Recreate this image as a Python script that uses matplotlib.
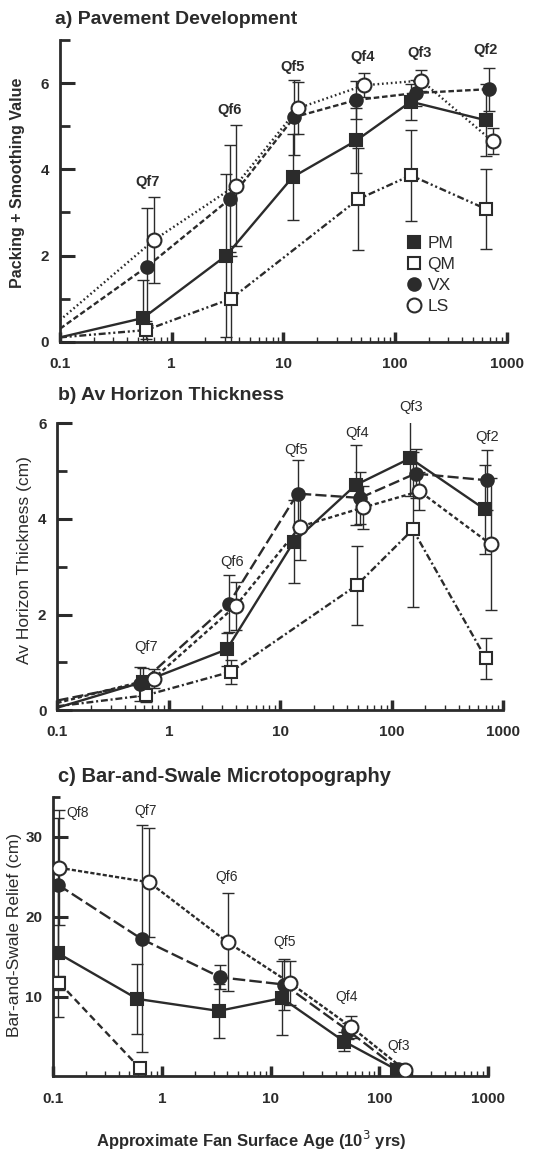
import numpy as np
import matplotlib
matplotlib.use("Agg")
from matplotlib import pyplot as plt
from matplotlib.lines import Line2D

plt.rcParams['font.family'] = ['Liberation Sans', 'DejaVu Sans']
plt.rcParams['lines.scale_dashes'] = False

nan = np.nan
INK = '#2b2b2b'

# ---- a) pavement development (first point of each line is the 0.1 start, no marker)
a_pm_x = [0.1, 0.555, 3.08, 12.1, 45, 138, 646]
a_pm_y = [0.1, 0.55, 2.0, 3.82, 4.67, 5.57, 5.14]
a_pm_e = [nan, 0.88, 1.9, 1.0, 0.76, 0.42, 0.84]
a_qm_x = [0.1, 0.59, 3.41, 47, 138, 650]
a_qm_y = [0.1, 0.27, 1.0, 3.31, 3.86, 3.08]
a_qm_e = [nan, 0.2, 1.0, 1.18, 1.06, 0.92]
a_vx_x = [0.1, 0.6, 3.35, 12.5, 45, 153, 690]
a_vx_y = [0.3, 1.74, 3.32, 5.21, 5.61, 5.77, 5.86]
a_vx_e = [nan, 1.36, 1.25, 0.87, 0.44, 0.3, 0.5]
a_ls_x = [0.1, 0.695, 3.73, 13.6, 52.7, 172, 745]
a_ls_y = [0.5, 2.36, 3.62, 5.42, 5.95, 6.06, 4.65]
a_ls_e = [nan, 1.0, 1.4, 0.6, 0.28, 0.25, 0.3]
a_lab = ['Qf7', 'Qf6', 'Qf5', 'Qf4', 'Qf3', 'Qf2']
a_lab_x = [0.61, 3.3, 12.0, 50.7, 166, 648]
a_lab_y = [3.71, 5.38, 6.38, 6.6, 6.7, 6.78]

# ---- b) Av horizon thickness
b_pm_x = [0.1, 0.59, 3.31, 13.2, 47.5, 147, 689]
b_pm_y = [0.05, 0.59, 1.27, 3.52, 4.71, 5.27, 4.2]
b_pm_e = [nan, 0.3, 0.35, 0.87, 0.83, 0.8, 0.93]
b_qm_x = [0.1, 0.625, 3.59, 48.5, 155, 702]
b_qm_y = [0.08, 0.31, 0.8, 2.61, 3.78, 1.08]
b_qm_e = [nan, 0.15, 0.25, 0.83, 1.62, 0.42]
b_vx_x = [0.1, 0.55, 3.46, 14.3, 52, 164, 716]
b_vx_y = [0.2, 0.55, 2.23, 4.53, 4.44, 4.95, 4.81]
b_vx_e = [nan, 0.35, 0.6, 0.7, 0.55, 0.52, 0.63]
b_ls_x = [0.1, 0.73, 3.98, 15.1, 55.7, 178, 776]
b_ls_y = [0.15, 0.66, 2.18, 3.84, 4.24, 4.58, 3.47]
b_ls_e = [nan, 0.2, 0.5, 0.69, 0.44, 0.4, 1.38]
b_lab = ['Qf7', 'Qf6', 'Qf5', 'Qf4', 'Qf3', 'Qf2']
b_lab_x = [0.625, 3.7, 13.8, 48.5, 151, 726]
b_lab_y = [1.32, 3.1, 5.44, 5.79, 6.35, 5.72]

# ---- c) bar-and-swale relief
c_pm_x = [0.111, 0.594, 3.32, 12.7, 47.8, 146]
c_pm_y = [15.4, 9.7, 8.2, 9.8, 4.35, 0.8]
c_pm_e = [7.9, 4.4, 3.4, 4.6, 1.2, 0.3]
c_qm_x = [0.114, 0.63]
c_qm_y = [11.7, 1.0]
c_qm_e = [0.9, 0.3]
c_vx_x = [0.11, 0.65, 3.45, 13.3, 52, 150]
c_vx_y = [24.0, 17.2, 12.4, 11.5, 5.7, 0.9]
c_vx_e = [8.4, 14.2, 1.5, 3.2, 1.0, 0.3]
c_ls_x = [0.114, 0.76, 4.02, 15.1, 55, 172]
c_ls_y = [26.1, 24.3, 16.8, 11.7, 6.2, 0.8]
c_ls_e = [7.2, 6.8, 6.1, 2.8, 1.4, 0.3]
c_lab = ['Qf8', 'Qf7', 'Qf6', 'Qf5', 'Qf4', 'Qf3']
c_lab_x = [0.166, 0.7, 3.9, 13.5, 49.9, 151]
c_lab_y = [33.0, 33.2, 24.9, 16.8, 9.9, 3.8]

xticks = [0.1, 1, 10, 100, 1000]
xtick_labels = ['0.1', '1', '10', '100', '1000']

MARK = {'PM': dict(marker='s', mfc=INK, ms=9),
        'QM': dict(marker='s', mfc='white', ms=9),
        'VX': dict(marker='o', mfc=INK, ms=9),
        'LS': dict(marker='o', mfc='white', ms=10)}


def series(ax, x, y, e, name, ls, start=1):
    ax.errorbar(x[start:], y[start:], yerr=e[start:], fmt='none', ecolor=INK,
                elinewidth=1.0, capsize=4, capthick=1.0, zorder=2)
    n = len(x)
    ax.plot(x, y, color=INK, lw=1.7, ls=ls, mec=INK, mew=1.5,
            markevery=list(range(start, n)), zorder=3, **MARK[name])


def style(ax, ylim, yticks, yminor):
    ax.set_xscale('log')
    ax.set_xlim(0.1, 1000)
    ax.set_ylim(*ylim)
    for s in ['top', 'right']:
        ax.spines[s].set_visible(False)
    for s in ['left', 'bottom']:
        ax.spines[s].set_linewidth(2)
        ax.spines[s].set_color(INK)
    ax.set_xticks(xticks)
    ax.set_xticklabels(xtick_labels)
    ax.set_yticks(yticks)
    ax.set_yticks(yminor, minor=True)
    ax.tick_params(which='major', direction='in', color=INK, labelsize=11,
                   labelcolor=INK)
    ax.tick_params(axis='x', which='major', length=7, width=2.5, pad=11)
    ax.tick_params(axis='x', which='minor', length=3.5, width=1, direction='in', color=INK)
    ax.tick_params(axis='y', which='major', length=11, width=2.2, pad=8)
    ax.tick_params(axis='y', which='minor', length=7, width=2, direction='in', color=INK)
    for lab in ax.get_yticklabels() + ax.get_xticklabels():
        lab.set_fontweight('bold')
    ax.patch.set_alpha(0)


fig = plt.figure(figsize=(5.45, 11.54), dpi=100)

# a)
ax = fig.add_axes([0.110, 0.7039, 0.820, 0.2614])
series(ax, a_pm_x, a_pm_y, a_pm_e, 'PM', '-')
series(ax, a_qm_x, a_qm_y, a_qm_e, 'QM', (0, (5, 2, 1.5, 2, 1.5, 2)))
series(ax, a_vx_x, a_vx_y, a_vx_e, 'VX', (0, (4, 2)))
series(ax, a_ls_x, a_ls_y, a_ls_e, 'LS', (0, (1.2, 2)))
style(ax, (0, 7), [0, 2, 4, 6], [1, 3, 5, 7])
for t, x, y in zip(a_lab, a_lab_x, a_lab_y):
    ax.text(x, y, t, ha='center', va='center', fontsize=10.5, fontweight='bold', color=INK)
ax.set_ylabel('Packing + Smoothing Value', fontsize=11.5, fontweight='bold', color=INK)
ax.yaxis.set_label_coords(-0.078, 0.526)
handles = [Line2D([], [], ls='none', mec=INK, mew=1.5, **MARK[k]) for k in ['PM', 'QM', 'VX', 'LS']]
ax.legend(handles, ['PM', 'QM', 'VX', 'LS'], loc='upper left', bbox_to_anchor=(0.772, 0.352),
          frameon=False, fontsize=12.5, handlelength=1.0, handletextpad=0.3, labelspacing=0.35,
          borderaxespad=0, borderpad=0, labelcolor=INK)
fig.text(55 / 545, 1 - 20 / 1154, 'a) Pavement Development', fontsize=14,
         fontweight='bold', va='center', ha='left', color=INK)

# b)
ax = fig.add_axes([0.1055, 0.3847, 0.8174, 0.2484])
series(ax, b_pm_x, b_pm_y, b_pm_e, 'PM', '-')
series(ax, b_qm_x, b_qm_y, b_qm_e, 'QM', (0, (5, 2, 1.5, 2)))
series(ax, b_vx_x, b_vx_y, b_vx_e, 'VX', (0, (8, 3)))
series(ax, b_ls_x, b_ls_y, b_ls_e, 'LS', (0, (3, 2)))
style(ax, (0, 6), [0, 2, 4, 6], [1, 3, 5])
for t, x, y in zip(b_lab, b_lab_x, b_lab_y):
    ax.text(x, y, t, ha='center', va='center', fontsize=10.5, color=INK, clip_on=False)
ax.set_ylabel('Av Horizon Thickness (cm)', fontsize=12.5, color=INK)
ax.yaxis.set_label_coords(-0.057, 0.523)
fig.text(58 / 545, 1 - 395 / 1154, 'b) Av Horizon Thickness', fontsize=14,
         fontweight='bold', va='center', ha='left', color=INK)

# c)
ax = fig.add_axes([0.0978, 0.0672, 0.7976, 0.2424])
series(ax, c_pm_x, c_pm_y, c_pm_e, 'PM', '-', start=0)
series(ax, c_qm_x, c_qm_y, c_qm_e, 'QM', (0, (5, 3)), start=0)
series(ax, c_vx_x, c_vx_y, c_vx_e, 'VX', (0, (9, 3)), start=0)
series(ax, c_ls_x, c_ls_y, c_ls_e, 'LS', (0, (3, 1.5)), start=0)
style(ax, (0, 35), [10, 20, 30], [35])
ax.tick_params(axis='y', which='minor', length=5)
for t, x, y in zip(c_lab, c_lab_x, c_lab_y):
    ax.text(x, y, t, ha='center', va='center', fontsize=10, color=INK)
ax.set_ylabel('Bar-and-Swale Relief (cm)', fontsize=12.5, color=INK)
ax.yaxis.set_label_coords(-0.072, 0.506)
fig.text(58 / 545, 1 - 777 / 1154, 'c) Bar-and-Swale Microtopography', fontsize=14.5,
         fontweight='bold', va='center', ha='left', color=INK)
fig.text(251 / 545, 1 - 1140 / 1154, r'Approximate Fan Surface Age (10$^{3}$ yrs)',
         fontsize=12, fontweight='bold', va='center', ha='center', color=INK)

fig.savefig('out.png', dpi=100)
